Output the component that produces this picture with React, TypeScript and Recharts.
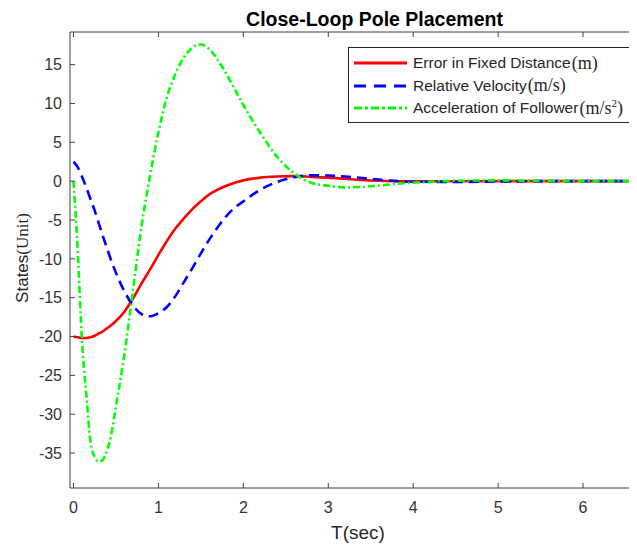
import { LineChart, Line, XAxis, YAxis } from 'recharts';

// time samples (sec) and the three states
const T = [0, 0.05, 0.1, 0.15, 0.2, 0.25, 0.3, 0.35, 0.4, 0.45, 0.5, 0.6, 0.7, 0.8, 0.9, 1.0, 1.1, 1.2, 1.3, 1.4, 1.5, 1.6, 1.7, 1.8, 1.9, 2.0, 2.2, 2.4, 2.6, 2.8, 3.0, 3.2, 3.4, 3.6, 3.8, 4.0, 4.5, 5.0, 5.5, 6.0, 6.5, 7.0];
const ERROR = [-20, -20.1, -20.2, -20.2, -20.1, -19.9, -19.6, -19.3, -18.9, -18.5, -18.0, -16.8, -15.1, -13.2, -11.4, -9.5, -7.7, -6.1, -4.8, -3.6, -2.6, -1.7, -1.1, -0.6, -0.2, 0.1, 0.45, 0.6, 0.65, 0.55, 0.45, 0.3, 0.15, 0.05, 0, -0.03, -0.02, 0, 0, 0, 0, 0];
const VELOCITY = [2.5, 1.8, 0.6, -0.8, -2.3, -3.8, -5.5, -7.2, -8.8, -10.4, -11.8, -14.2, -16.0, -17.1, -17.4, -17.0, -16.2, -14.8, -13.0, -11.2, -9.3, -7.5, -5.9, -4.5, -3.4, -2.6, -1.1, -0.1, 0.5, 0.75, 0.72, 0.6, 0.4, 0.2, 0, -0.08, -0.1, -0.05, 0, 0, 0, 0];
const ACCEL = [0, -9.0, -20.5, -27.3, -33.5, -35.5, -36.1, -35.8, -34.5, -32.3, -29.0, -22.3, -14.1, -5.9, 0.6, 6.3, 10.8, 13.8, 15.9, 17.2, 17.6, 17.0, 15.6, 13.8, 11.8, 9.8, 6.2, 3.1, 1.0, -0.2, -0.6, -0.8, -0.75, -0.55, -0.35, -0.2, 0.05, 0.1, 0.05, 0, 0, 0];

const X_TICKS = [0, 1, 2, 3, 4, 5, 6];
const Y_TICKS = [-35, -30, -25, -20, -15, -10, -5, 0, 5, 10, 15];

const SERIES = [
  { key: 'err', label: 'Error in Fixed Distance', unit: <>(m)</>, color: '#ff0000', dash: undefined, legendDash: undefined },
  { key: 'vel', label: 'Relative Velocity', unit: <>(m/s)</>, color: '#0000ff', dash: '10 6', legendDash: '12 8' },
  { key: 'acc', label: 'Acceleration of Follower', unit: <>(m/s<sup style={{ fontSize: 11, verticalAlign: 7, lineHeight: 0 }}>2</sup>)</>, color: '#00ff00', dash: '7 3 2 3', legendDash: '8 3 3 3' },
];

const data = T.map((t, i) => ({ t, err: ERROR[i], vel: VELOCITY[i], acc: ACCEL[i] }));

const SANS = 'Arial, "Liberation Sans", Helvetica, sans-serif';
const SERIF = '"Times New Roman", "Liberation Serif", serif';
const AXIS = '#404040';

export default function App() {
  return (
    <div style={{ position: 'relative', width: 629, height: 540, overflow: 'hidden', fontFamily: SANS }}>
      <style>{'html,body{overflow:hidden}'}</style>
      <LineChart width={700} height={540} data={data} margin={{ top: 23, right: 29, bottom: 0, left: 0 }}>
        <XAxis
          dataKey="t"
          type="number"
          domain={[-0.041, 7.13]}
          allowDataOverflow
          ticks={X_TICKS}
          height={60}
          stroke={AXIS}
          tickSize={-5}
          tickMargin={19}
          tick={{ fill: '#333', fontSize: 16 }}
        />
        <XAxis
          xAxisId="top"
          orientation="top"
          dataKey="t"
          type="number"
          domain={[-0.041, 7.13]}
          allowDataOverflow
          ticks={X_TICKS}
          height={1}
          stroke={AXIS}
          tickSize={-5}
          tick={() => <g />}
        />
        <YAxis
          type="number"
          domain={[-39.5, 19.2]}
          allowDataOverflow
          ticks={Y_TICKS}
          width={62}
          stroke={AXIS}
          tickSize={-5}
          tickMargin={13}
          tick={{ fill: '#333', fontSize: 16 }}
        />
        {SERIES.map(s => (
          <Line
            key={s.key}
            dataKey={s.key}
            type="monotone"
            stroke={s.color}
            strokeWidth={2.6}
            strokeDasharray={s.dash}
            dot={false}
            activeDot={false}
            isAnimationActive={false}
          />
        ))}
      </LineChart>

      {/* title */}
      <div style={{ position: 'absolute', left: 166.5, width: 400, top: 1, textAlign: 'center', fontSize: 19.5, lineHeight: '20px', fontWeight: 'bold', color: '#000' }}>
        Close-Loop Pole Placement
      </div>

      {/* axis labels */}
      <div style={{ position: 'absolute', left: 300, width: 100, top: 515, textAlign: 'center', fontSize: 19, lineHeight: '19px', color: '#262626' }}>
        T(sec)
      </div>
      <div style={{ position: 'absolute', left: 14.5, top: 250, transform: 'translate(-50%, -50%) rotate(-90deg)', whiteSpace: 'nowrap', fontSize: 17, color: '#262626' }}>
        States<span style={{ fontFamily: SERIF }}>(Unit)</span>
      </div>

      {/* legend */}
      <div style={{ position: 'absolute', left: 340, top: 39, width: 280, height: 70, border: '1px solid #262626', background: '#fff', paddingTop: 4, boxSizing: 'content-box' }}>
        {SERIES.map(s => (
          <div key={s.key} style={{ display: 'flex', alignItems: 'center', height: 22.5, whiteSpace: 'nowrap' }}>
            <svg width={64} height={10} style={{ flex: 'none' }}>
              <line x1={5} x2={58} y1={5} y2={5} stroke={s.color} strokeWidth={3} strokeDasharray={s.legendDash} />
            </svg>
            <span style={{ fontSize: 15.5, color: '#262626' }}>{s.label}</span>
            <span style={{ fontFamily: SERIF, fontSize: 18, color: '#262626', marginLeft: 1 }}>{s.unit}</span>
          </div>
        ))}
      </div>
    </div>
  );
}
